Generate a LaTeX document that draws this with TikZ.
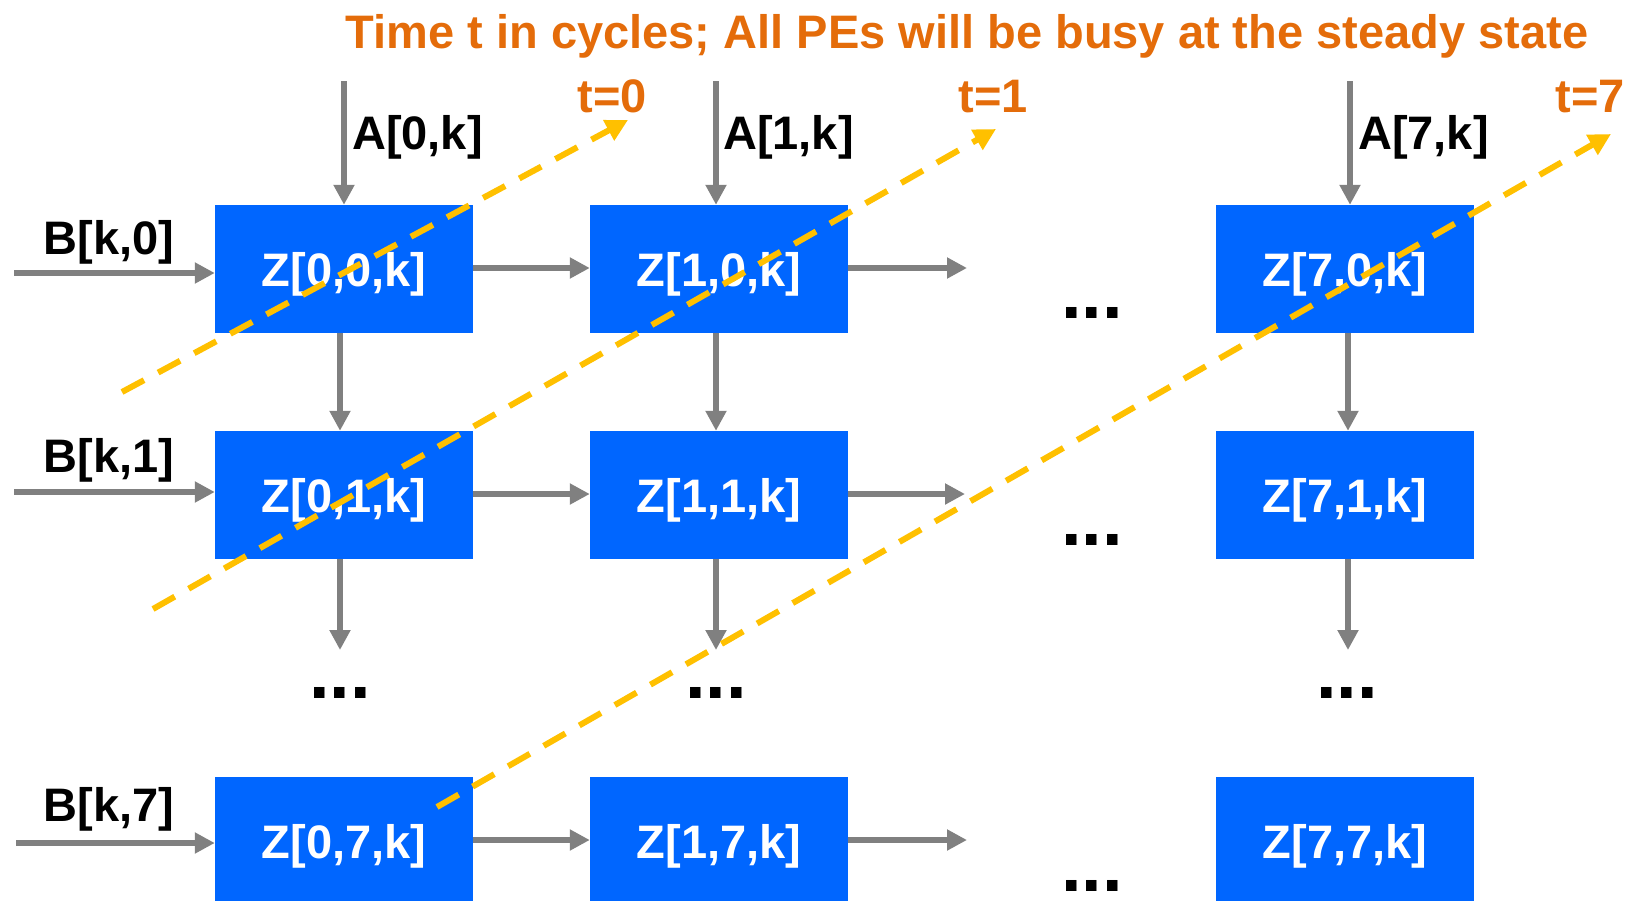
\documentclass[tikz,border=0pt]{standalone}
\usepackage{fontspec}
\setmainfont{Liberation Sans}
\usetikzlibrary{arrows.meta}
\definecolor{peblue}{HTML}{0066FF}
\definecolor{arrgray}{HTML}{808080}
\definecolor{ttlorange}{HTML}{E46C0A}
\definecolor{dashyel}{HTML}{FFC000}
\begin{document}
\begin{tikzpicture}[x=1pt,y=-1pt,
  pe/.style={fill=peblue, draw=none, minimum width=258pt, minimum height=128pt, inner sep=0pt, text=white, text depth=0pt, font=\fontsize{47}{56}\selectfont\bfseries},
  lbl/.style={font=\fontsize{47}{56}\selectfont\bfseries, inner sep=0pt, text depth=0pt},
  dotsl/.style={font=\fontsize{74}{80}\selectfont\bfseries, inner sep=0pt},
  flow/.style={draw=arrgray, line width=5.5pt, -{Triangle[length=20pt,width=20pt]}},
  wave/.style={draw=dashyel, line width=6pt, dash pattern=on 25pt off 16pt, -{Triangle[length=22pt,width=22pt]}},
  tlbl/.style={font=\fontsize{47}{56}\selectfont\bfseries, text=ttlorange, inner sep=0pt, text depth=0pt}]
\useasboundingbox (0,0) rectangle (1631,900);

% title
\node[tlbl] (title) at (967,31) {Time t in cycles; All PEs will be busy at the steady state};

% PE boxes
\node[pe] (b00) at (344,269) {Z[0,0,k]};
\node[pe] (b10) at (719,269) {Z[1,0,k]};
\node[pe] (b70) at (1345,269) {Z[7,0,k]};
\node[pe] (b01) at (344,495) {Z[0,1,k]};
\node[pe] (b11) at (719,495) {Z[1,1,k]};
\node[pe] (b71) at (1345,495) {Z[7,1,k]};
\node[pe] (b07) at (344,841) {Z[0,7,k]};
\node[pe] (b17) at (719,841) {Z[1,7,k]};
\node[pe] (b77) at (1345,841) {Z[7,7,k]};

% A inputs
\coordinate (a0) at (344,81);
\coordinate (a1) at (716,81);
\coordinate (a7) at (1350,81);
\draw[flow] (a0) -- (b00.north -| a0);
\draw[flow] (a1) -- (b10.north -| a1);
\draw[flow] (a7) -- (b70.north -| a7);
\node[lbl, anchor=west] (la0) at (352,132) {A[0,k]};
\node[lbl, anchor=west] (la1) at (723,132) {A[1,k]};
\node[lbl, anchor=west] (la7) at (1358,132) {A[7,k]};

% B inputs
\coordinate (bi0) at (14,273);
\coordinate (bi1) at (14,492);
\coordinate (bi7) at (16,843);
\draw[flow] (bi0) -- (b00.west |- bi0);
\draw[flow] (bi1) -- (b01.west |- bi1);
\draw[flow] (bi7) -- (b07.west |- bi7);
\node[lbl] (lb0) at (109,237) {B[k,0]};
\node[lbl] (lb1) at (109,455) {B[k,1]};
\node[lbl] (lb7) at (109,804) {B[k,7]};

% horizontal flows
\coordinate (h0) at (967,268);
\coordinate (h1) at (965,494);
\coordinate (h7) at (967,840);
\draw[flow] (b00.east |- h0) -- (b10.west |- h0);
\draw[flow] (b10.east |- h0) -- (h0);
\draw[flow] (b01.east |- h1) -- (b11.west |- h1);
\draw[flow] (b11.east |- h1) -- (h1);
\draw[flow] (b07.east |- h7) -- (b17.west |- h7);
\draw[flow] (b17.east |- h7) -- (h7);

% vertical flows
\coordinate (v0) at (340,650);
\coordinate (v1) at (716,650);
\coordinate (v7) at (1348,650);
\draw[flow] (b00.south -| v0) -- (b01.north -| v0);
\draw[flow] (b10.south -| v1) -- (b11.north -| v1);
\draw[flow] (b70.south -| v7) -- (b71.north -| v7);
\draw[flow] (b01.south -| v0) -- (v0);
\draw[flow] (b11.south -| v1) -- (v1);
\draw[flow] (b71.south -| v7) -- (v7);

% ellipses
\node[dotsl] (d1) at (1092,313) {...};
\node[dotsl] (d2) at (1092,540) {...};
\node[dotsl] (d3) at (1092,886) {...};
\node[dotsl] (d4) at (340,693) {...};
\node[dotsl] (d5) at (716,693) {...};
\node[dotsl] (d6) at (1347,693) {...};

% wavefronts
\coordinate (w0s) at (122,392);
\coordinate (w0e) at (628,120);
\coordinate (w1s) at (153,609);
\coordinate (w1e) at (996,129);
\coordinate (w7s) at (437,807);
\coordinate (w7e) at (1611,134);
\draw[wave] (w0s) -- (w0e);
\draw[wave] (w1s) -- (w1e);
\draw[wave] (w7s) -- (w7e);
\node[tlbl] (t0) at (612,96) {t=0};
\node[tlbl] (t1) at (993,96) {t=1};
\node[tlbl] (t7) at (1590,96) {t=7};
\end{tikzpicture}
\end{document}
